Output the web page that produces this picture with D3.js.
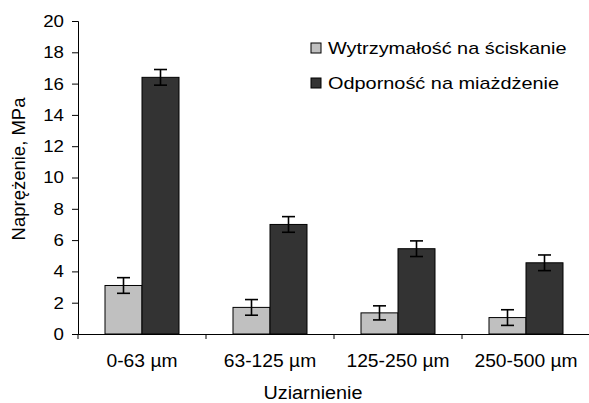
<!DOCTYPE html>
<html>
<head>
<meta charset="utf-8">
<script src="https://cdn.jsdelivr.net/npm/d3@7"></script>
<style>
  body { margin: 0; background: #fff; }
  text { font-family: "Liberation Sans", Arial, sans-serif; fill: #000; }
</style>
</head>
<body>
<svg id="chart" width="589" height="403"></svg>
<script>
// data
const categories = ['0-63 µm', '63-125 µm', '125-250 µm', '250-500 µm'];
const seriesNames = ['Wytrzymałość na ściskanie', 'Odporność na miażdżenie'];
const compressive = [3.1, 1.7, 1.35, 1.05];
const crushing = [16.4, 7.0, 5.45, 4.55];
const compressiveErr = [0.5, 0.5, 0.45, 0.5];
const crushingErr = [0.5, 0.5, 0.5, 0.5];
const yTicks = [0, 2, 4, 6, 8, 10, 12, 14, 16, 18, 20];
const colors = ['#c0c0c0', '#333333'];

const svg = d3.select('#chart');
const mLeft = 78, mRight = 590, mTop = 21, mBottom = 334;

// the original text is drawn a bit wider than the font, stretch it
function widen(sel, k) {
  sel.each(function() {
    const w = this.getComputedTextLength();
    d3.select(this).attr('textLength', w * k).attr('lengthAdjust', 'spacingAndGlyphs');
  });
}

const x0 = d3.scaleBand().domain(categories).range([mLeft, mRight]);
const x1 = d3.scaleBand().domain(seriesNames).range([27, 101]);
const y = d3.scaleLinear().domain([0, 20]).range([mBottom, mTop]);

const rows = categories.map((c, i) => ({
  cat: c,
  bars: [
    { s: seriesNames[0], v: compressive[i], e: compressiveErr[i] },
    { s: seriesNames[1], v: crushing[i], e: crushingErr[i] }
  ]
}));

// bars
const groups = svg.selectAll('.grp').data(rows).enter().append('g')
  .attr('class', 'grp')
  .attr('transform', d => `translate(${x0(d.cat)},0)`);

groups.selectAll('rect').data(d => d.bars).enter().append('rect')
  .attr('x', d => x1(d.s))
  .attr('y', d => y(d.v))
  .attr('width', x1.bandwidth())
  .attr('height', d => y(0) - y(d.v))
  .attr('fill', (d, i) => colors[i])
  .attr('stroke', '#000')
  .attr('stroke-width', 1);

// error bars
const err = groups.selectAll('.err').data(d => d.bars).enter().append('g')
  .attr('class', 'err')
  .attr('transform', d => `translate(${x1(d.s) + x1.bandwidth() / 2},0)`)
  .attr('stroke', '#000')
  .attr('stroke-width', 1.6);
err.append('line').attr('x1', 0).attr('x2', 0)
  .attr('y1', d => y(d.v + d.e)).attr('y2', d => y(d.v - d.e));
err.append('line').attr('x1', -6.5).attr('x2', 6.5)
  .attr('y1', d => y(d.v + d.e)).attr('y2', d => y(d.v + d.e));
err.append('line').attr('x1', -6.5).attr('x2', 6.5)
  .attr('y1', d => y(d.v - d.e)).attr('y2', d => y(d.v - d.e));

// y axis
const yAxis = svg.append('g')
  .attr('transform', `translate(${mLeft},0)`)
  .call(d3.axisLeft(y).tickValues(yTicks).tickSize(6).tickPadding(8));
yAxis.selectAll('text').style('font-size', '17px').call(widen, 1.1);

// x axis
const xAxis = svg.append('g')
  .attr('transform', `translate(0,${mBottom})`)
  .call(d3.axisBottom(x0).tickSize(0).tickPadding(21));
xAxis.selectAll('text').style('font-size', '17.5px').call(widen, 1.1);
xAxis.selectAll('.tickline')
  .data([mLeft, ...categories.map(c => x0(c) + x0.bandwidth())])
  .enter().append('line')
  .attr('class', 'tickline')
  .attr('x1', d => d).attr('x2', d => d)
  .attr('y1', 0).attr('y2', 5)
  .attr('stroke', '#000');

svg.selectAll('.domain').attr('stroke', '#000');
svg.selectAll('.tick line').attr('stroke', '#000');

// axis titles
svg.append('text')
  .attr('transform', 'translate(25,169) rotate(-90)')
  .attr('text-anchor', 'middle')
  .style('font-size', '18.5px')
  .text('Naprężenie, MPa');

svg.append('text')
  .attr('x', 313).attr('y', 399)
  .attr('text-anchor', 'middle')
  .style('font-size', '18px')
  .text('Uziarnienie')
  .call(widen, 1.1);

// legend
const legend = svg.selectAll('.leg').data(seriesNames).enter().append('g')
  .attr('class', 'leg')
  .attr('transform', (d, i) => `translate(311,${43 + i * 35})`);
legend.append('rect')
  .attr('width', 10).attr('height', 10)
  .attr('fill', (d, i) => colors[i])
  .attr('stroke', '#000');
legend.append('text')
  .attr('x', 17).attr('y', 11)
  .style('font-size', '17px')
  .text(d => d)
  .call(widen, 1.17);
</script>
</body>
</html>
